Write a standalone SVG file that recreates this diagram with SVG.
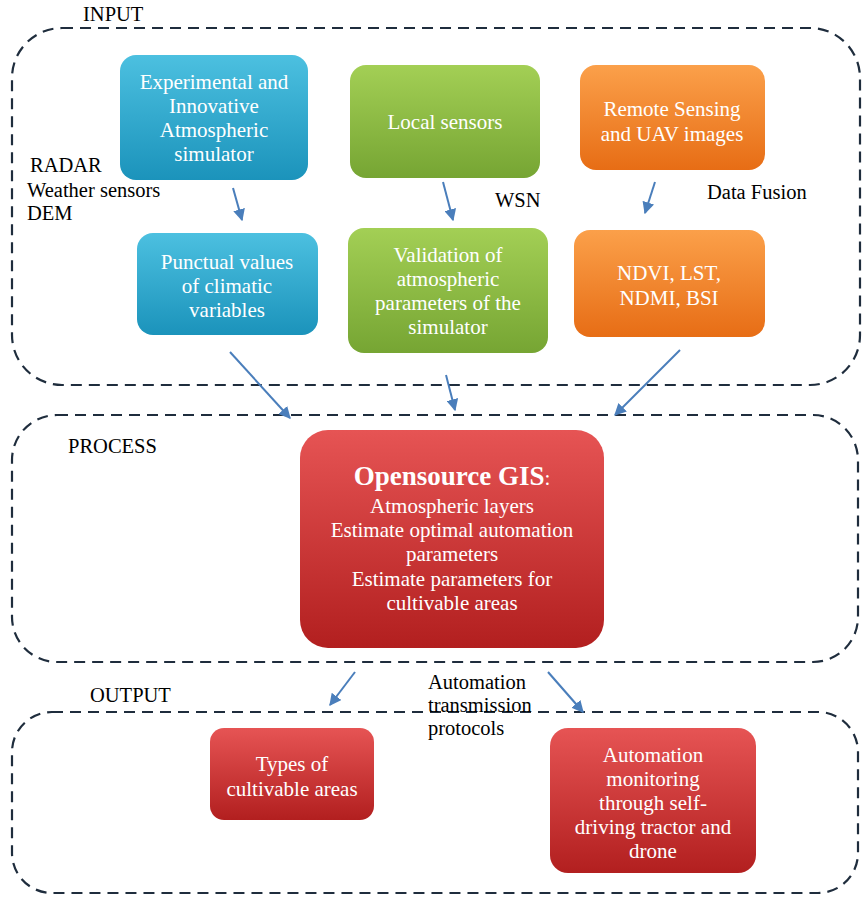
<svg xmlns="http://www.w3.org/2000/svg" width="866" height="903" viewBox="0 0 866 903">
<style>
.grp{fill:none;stroke:#1f2d3d;stroke-width:2.2;stroke-dasharray:11 7}
.lbl{font-family:"Liberation Serif",serif;font-size:20.5px;fill:#000}
.nt{font-family:"Liberation Serif",serif;font-size:21px;fill:#fff;text-anchor:middle}
.con{stroke:#4a7ebb;stroke-width:2;fill:none;marker-end:url(#ah)}
</style>
<defs>
<marker id="ah" viewBox="0 0 10 10" refX="9" refY="5" markerWidth="6" markerHeight="6" orient="auto"><path d="M0,0L10,5L0,10z" fill="#4a7ebb"/></marker>
<linearGradient id="gb" x1="0" y1="0" x2="0" y2="1"><stop offset="0" stop-color="#4cc0e0"/><stop offset="1" stop-color="#1b93bb"/></linearGradient>
<linearGradient id="gg" x1="0" y1="0" x2="0" y2="1"><stop offset="0" stop-color="#a3cf55"/><stop offset="1" stop-color="#76a533"/></linearGradient>
<linearGradient id="go" x1="0" y1="0" x2="0" y2="1"><stop offset="0" stop-color="#fba04a"/><stop offset="1" stop-color="#e76d15"/></linearGradient>
<linearGradient id="gr" x1="0" y1="0" x2="0" y2="1"><stop offset="0" stop-color="#e65454"/><stop offset="1" stop-color="#b21f1f"/></linearGradient>
</defs>
<rect width="866" height="903" fill="#fff"/>
<rect class="grp" x="12" y="28" width="848" height="357" rx="50"/>
<rect class="grp" x="12" y="415" width="846" height="247" rx="45"/>
<rect class="grp" x="12" y="712" width="846" height="181" rx="40"/>
<text class="lbl" x="83" y="21">INPUT</text>
<text class="lbl" x="30" y="172">RADAR</text>
<text class="lbl" x="27" y="197">Weather sensors</text>
<text class="lbl" x="27" y="220">DEM</text>
<text class="lbl" x="495" y="207">WSN</text>
<text class="lbl" x="707" y="199">Data Fusion</text>
<text class="lbl" x="68" y="453">PROCESS</text>
<text class="lbl" x="90" y="702">OUTPUT</text>
<text class="lbl" x="428" y="689">Automation</text>
<text class="lbl" x="428" y="712">transmission</text>
<text class="lbl" x="428" y="735">protocols</text>
<g id="n1"><rect x="120" y="55" width="188" height="125" rx="16" fill="url(#gb)"/>
<text class="nt" x="214" y="89">Experimental and</text><text class="nt" x="214" y="113">Innovative</text><text class="nt" x="214" y="137">Atmospheric</text><text class="nt" x="214" y="161">simulator</text></g>
<g id="n2"><rect x="350" y="65" width="190" height="113" rx="16" fill="url(#gg)"/>
<text class="nt" x="445" y="129">Local sensors</text></g>
<g id="n3"><rect x="580" y="65" width="185" height="105" rx="16" fill="url(#go)"/>
<text class="nt" x="672" y="116">Remote Sensing</text><text class="nt" x="672" y="141">and UAV images</text></g>
<g id="n4"><rect x="137" y="233" width="181" height="102" rx="16" fill="url(#gb)"/>
<text class="nt" x="227" y="269">Punctual values</text><text class="nt" x="227" y="293">of climatic</text><text class="nt" x="227" y="317">variables</text></g>
<g id="n5"><rect x="348" y="228" width="200" height="125" rx="16" fill="url(#gg)"/>
<text class="nt" x="448" y="262">Validation of</text><text class="nt" x="448" y="286">atmospheric</text><text class="nt" x="448" y="310">parameters of the</text><text class="nt" x="448" y="334">simulator</text></g>
<g id="n6"><rect x="574" y="230" width="191" height="107" rx="16" fill="url(#go)"/>
<text class="nt" x="669" y="280">NDVI, LST,</text><text class="nt" x="669" y="305">NDMI, BSI</text></g>
<g id="n7"><rect x="300" y="430" width="304" height="218" rx="28" fill="url(#gr)"/>
<text class="nt" x="452" y="485"><tspan font-weight="bold" font-size="27">Opensource GIS</tspan>:</text>
<text class="nt" x="452" y="513">Atmospheric layers</text><text class="nt" x="452" y="537">Estimate optimal automation</text><text class="nt" x="452" y="561">parameters</text><text class="nt" x="452" y="586">Estimate parameters for</text><text class="nt" x="452" y="610">cultivable areas</text></g>
<g id="n8"><rect x="210" y="728" width="164" height="92" rx="14" fill="url(#gr)"/>
<text class="nt" x="292" y="771">Types of</text><text class="nt" x="292" y="796">cultivable areas</text></g>
<g id="n9"><rect x="550" y="728" width="206" height="145" rx="18" fill="url(#gr)"/>
<text class="nt" x="653" y="762">Automation</text><text class="nt" x="653" y="786">monitoring</text><text class="nt" x="653" y="810">through self-</text><text class="nt" x="653" y="834">driving tractor and</text><text class="nt" x="653" y="858">drone</text></g>
<g id="connectors">
<line class="con" x1="233" y1="188" x2="242" y2="220"/>
<line class="con" x1="443" y1="182" x2="453" y2="220"/>
<line class="con" x1="655" y1="182" x2="645" y2="213"/>
<line class="con" x1="230" y1="352" x2="290" y2="418"/>
<line class="con" x1="446" y1="375" x2="455" y2="410"/>
<line class="con" x1="680" y1="350" x2="615" y2="415"/>
<line class="con" x1="355" y1="672" x2="330" y2="705"/>
<line class="con" x1="548" y1="672" x2="583" y2="712"/>
</g>
</svg>
